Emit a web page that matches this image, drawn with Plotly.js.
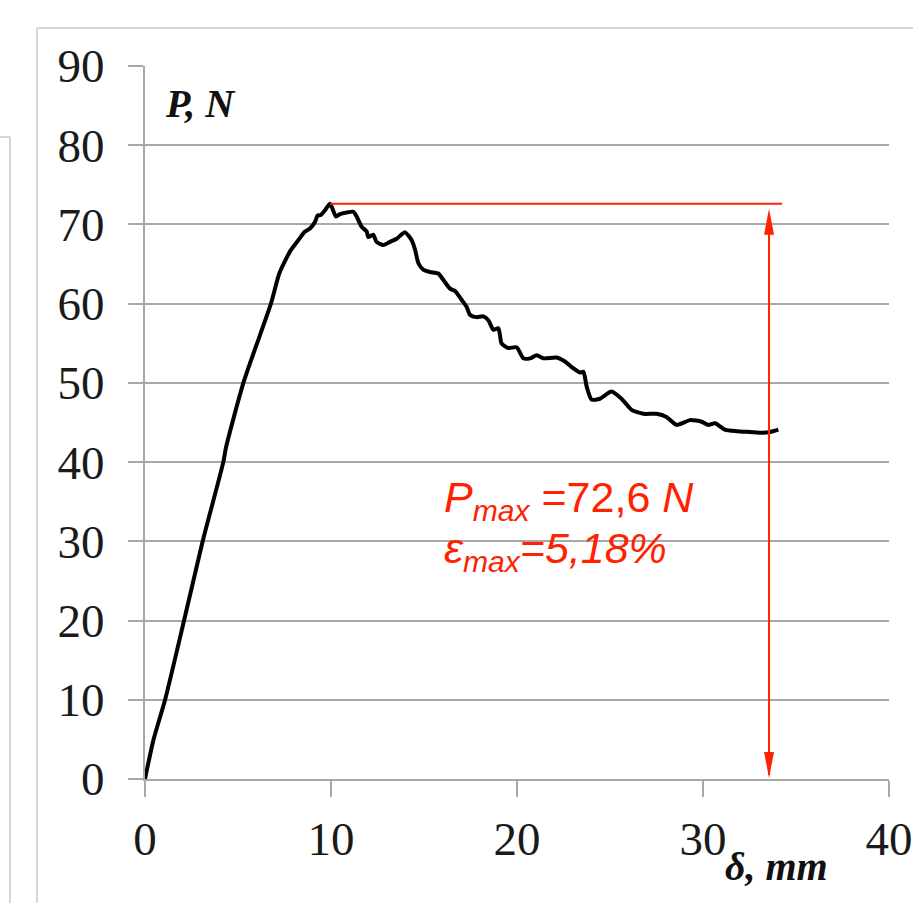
<!DOCTYPE html>
<html>
<head>
<meta charset="utf-8">
<script src="https://cdn.plot.ly/plotly-3.0.1.min.js"></script>
<style>html,body{margin:0;padding:0;background:#fff;}#chart{width:913px;height:903px;}</style>
</head>
<body>
<div id="chart"></div>
<script>
// Displacement, mm
var deltaMm = [0, 0.45, 1.08, 2.10, 3.10, 4.21, 4.36, 5.29, 6.77, 7.22, 7.80, 8.24, 8.60, 8.87, 9.14, 9.27, 9.45, 9.68, 9.95,
  10.27, 10.48, 10.84, 11.20, 11.38, 11.65, 11.92, 12.00, 12.27, 12.45, 12.81, 13.17, 13.53, 13.98, 14.34, 14.52, 14.70,
  14.96, 15.32, 15.77, 16.04, 16.40, 16.67, 17.02, 17.29, 17.47, 17.83, 18.19, 18.46, 18.73, 19.00, 19.17, 19.53, 19.98,
  20.34, 20.70, 21.06, 21.42, 22.13, 22.58, 22.94, 23.39, 23.57, 23.75, 24.01, 24.46, 25.08, 25.62, 26.16, 26.79, 27.50,
  28.04, 28.58, 29.30, 29.93, 30.28, 30.65, 31.18, 31.81, 32.53, 33.24, 33.60, 34.05];
// Load, N
var loadN = [0, 4.9, 10, 20, 30, 40, 41.9, 50, 60, 63.8, 66.6, 68.0, 69.1, 69.5, 70.3, 71.1, 71.2, 71.8, 72.6,
  71.0, 71.3, 71.5, 71.6, 71.0, 69.7, 69.1, 68.4, 68.7, 67.8, 67.4, 67.8, 68.2, 69.0, 68.0, 66.8, 65.1,
  64.3, 64.0, 63.8, 63.0, 61.9, 61.6, 60.5, 59.6, 58.6, 58.3, 58.4, 57.9, 56.7, 56.9, 55.0, 54.4, 54.5,
  53.1, 53.1, 53.5, 53.1, 53.2, 52.7, 52.0, 51.3, 51.4, 49.5, 47.9, 48.0, 48.9, 48.0, 46.6, 46.1, 46.1,
  45.7, 44.7, 45.3, 45.1, 44.7, 44.9, 44.1, 43.9, 43.8, 43.7, 43.8, 44.1];
var xTicks = [0, 10, 20, 30, 40];
var yTicks = [0, 10, 20, 30, 40, 50, 60, 70, 80, 90];

// Peak marker values
var pMax = 72.6;
var pMaxDelta = 9.95;
var arrowDelta = 33.55;
var lineEndDelta = 34.25;

var red = '#ff2200';
var grid = '#a8a8a8';
var frame = '#c8c8c8';

var trace = {
  x: deltaMm, y: loadN, type: 'scatter', mode: 'lines',
  line: {color: '#000', width: 4, shape: 'spline', smoothing: 0.6},
  hoverinfo: 'skip'
};

var layout = {
  width: 913, height: 903,
  margin: {l: 145, r: 24, t: 66, b: 124, pad: 0},
  paper_bgcolor: '#fff', plot_bgcolor: '#fff',
  showlegend: false,
  xaxis: {
    range: [0, 40], tickvals: xTicks, ticktext: xTicks.map(String),
    showgrid: false, zeroline: false,
    showline: true, linecolor: grid, linewidth: 2,
    ticks: 'outside', ticklen: 16, tickwidth: 2, tickcolor: grid,
    ticklabelstandoff: 2,
    tickfont: {family: 'Liberation Serif', size: 47, color: '#1a1a1a'},
    fixedrange: true
  },
  yaxis: {
    range: [0, 90], tickvals: yTicks, ticktext: yTicks.map(String),
    showgrid: true, gridcolor: grid, gridwidth: 2, zeroline: false,
    showline: true, linecolor: grid, linewidth: 2,
    ticks: 'outside', ticklen: 15, tickwidth: 2, tickcolor: grid,
    ticklabelstandoff: 14,
    tickfont: {family: 'Liberation Serif', size: 47, color: '#1a1a1a'},
    fixedrange: true
  },
  shapes: [
    // screenshot frame lines
    {type: 'line', xref: 'paper', yref: 'paper', x0: -0.1452, x1: -0.1452, y0: 1.0533, y1: -0.2, line: {color: frame, width: 1.5}, layer: 'below'},
    {type: 'line', xref: 'paper', yref: 'paper', x0: -0.1452, x1: 1.1, y0: 1.0533, y1: 1.0533, line: {color: frame, width: 1.5}, layer: 'below'},
    {type: 'line', xref: 'paper', yref: 'paper', x0: -0.1815, x1: -0.1815, y0: 0.9004, y1: -0.2, line: {color: frame, width: 1.5}, layer: 'below'},
    {type: 'line', xref: 'paper', yref: 'paper', x0: -0.3, x1: -0.1815, y0: 0.9004, y1: 0.9004, line: {color: frame, width: 1.5}, layer: 'below'},
    // Pmax horizontal
    {type: 'line', xref: 'x', yref: 'y', x0: pMaxDelta, x1: lineEndDelta, y0: pMax, y1: pMax, line: {color: red, width: 2}},
    // vertical dimension line
    {type: 'line', xref: 'x', yref: 'y', x0: arrowDelta, x1: arrowDelta, y0: 0.5, y1: pMax - 1.5, line: {color: red, width: 2}},
    // arrowheads (pixel sized)
    {type: 'path', xref: 'x', yref: 'y', xsizemode: 'pixel', ysizemode: 'pixel', xanchor: arrowDelta, yanchor: pMax,
      path: 'M0,-5 L-5,-31 L5,-31 Z', fillcolor: red, line: {color: red, width: 0}},
    {type: 'path', xref: 'x', yref: 'y', xsizemode: 'pixel', ysizemode: 'pixel', xanchor: arrowDelta, yanchor: 0,
      path: 'M0,1 L-5,27 L5,27 Z', fillcolor: red, line: {color: red, width: 0}}
  ],
  annotations: [
    {xref: 'paper', yref: 'paper', x: (163 - 145) / 744, y: (779 - 103) / 713, xanchor: 'left', yanchor: 'middle',
      text: '<b><i>P, N</i></b>', showarrow: false,
      font: {family: 'Liberation Serif', size: 40, color: '#111'}},
    {xref: 'paper', yref: 'paper', x: (776 - 145) / 744, y: (779 - 866) / 713, xanchor: 'center', yanchor: 'middle',
      text: '<b><i>δ, mm</i></b>', showarrow: false,
      font: {family: 'Liberation Serif', size: 40, color: '#111'}},
    {xref: 'paper', yref: 'paper', x: (442 - 145) / 744, y: (779 - 500) / 713, xanchor: 'left', yanchor: 'middle',
      text: '<i>P</i><sub><i>max</i></sub> =72,6 <i>N</i>', showarrow: false,
      font: {family: 'Liberation Sans', size: 43, color: red}},
    {xref: 'paper', yref: 'paper', x: (442 - 145) / 744, y: (779 - 551) / 713, xanchor: 'left', yanchor: 'middle',
      text: '<i>ε</i><sub><i>max</i></sub><i>=5,18%</i>', showarrow: false,
      font: {family: 'Liberation Sans', size: 43, color: red}}
  ]
};

Plotly.newPlot('chart', [trace], layout, {displayModeBar: false, staticPlot: true});
</script>
</body>
</html>
